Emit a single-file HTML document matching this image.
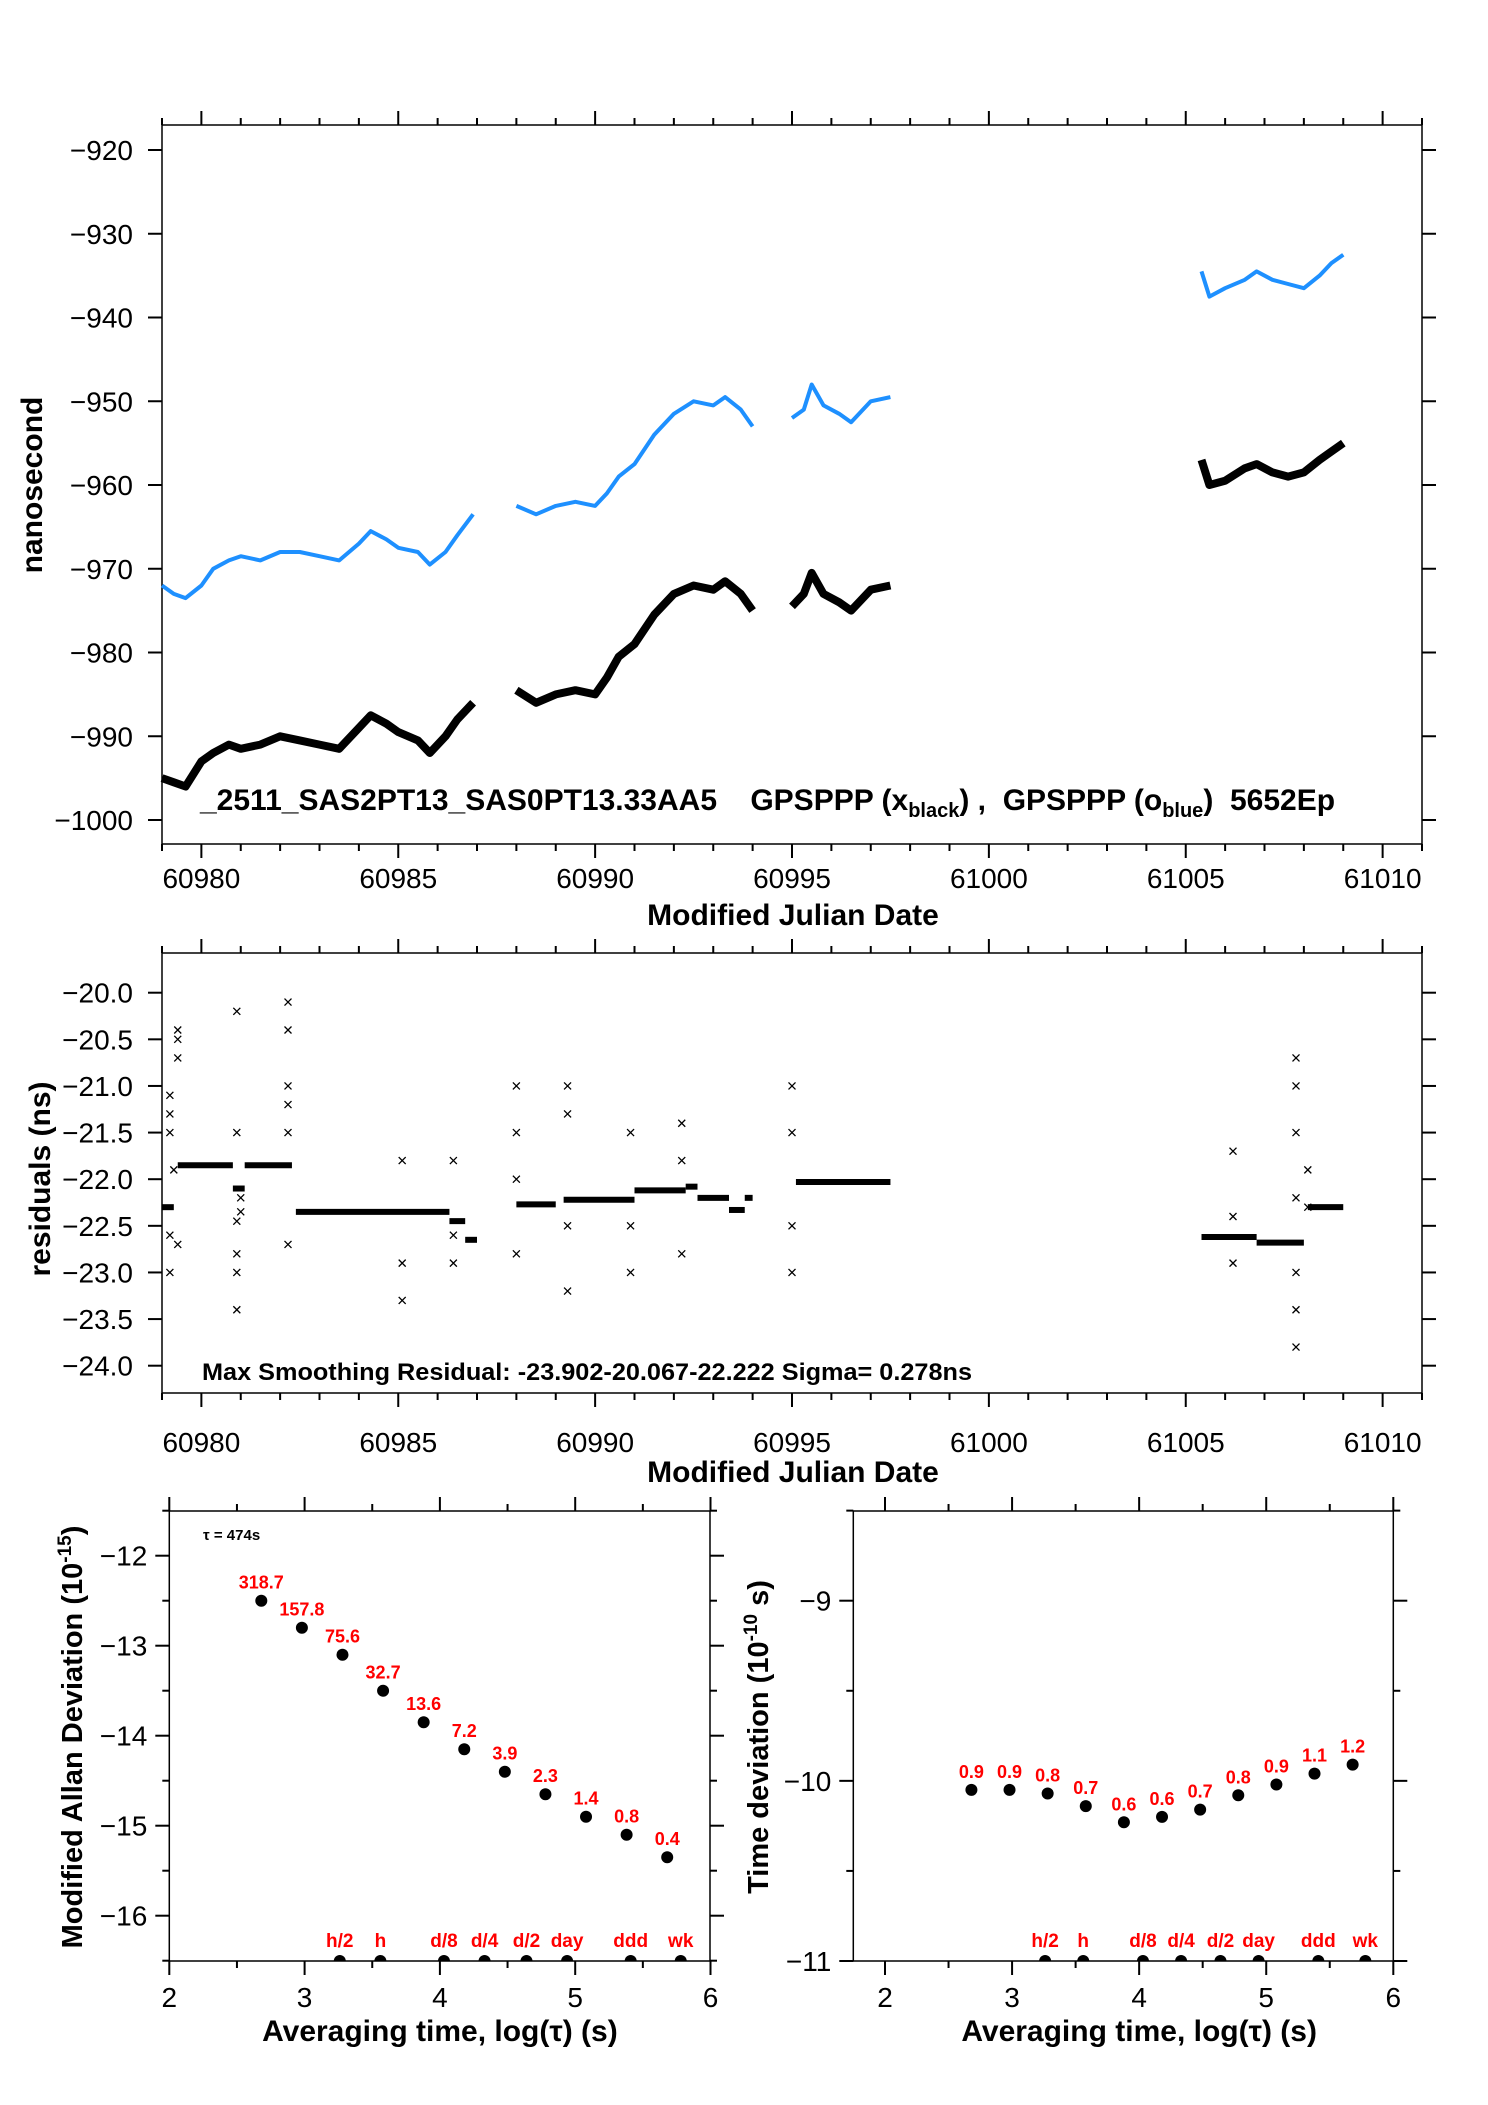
<!DOCTYPE html>
<html><head><meta charset="utf-8"><style>
html,body{margin:0;padding:0;background:#fff}
svg{display:block}
text{font-family:"Liberation Sans",sans-serif}
</style></head><body>
<svg id="s" width="1488" height="2105" viewBox="0 0 1488 2105" xmlns="http://www.w3.org/2000/svg"></svg>
<script>
// ---- Panel 1 data (MJD, ns) ----
const blueSegX=[[60979.0,60979.3,60979.6,60980,60980.3,60980.7,60981,60981.5,60982,60982.5,60983,60983.5,60984,60984.3,60984.7,60985,60985.5,60985.8,60986.2,60986.5,60986.9],[60988,60988.5,60989,60989.5,60990,60990.3,60990.6,60991,60991.5,60992,60992.5,60993,60993.3,60993.7,60994],[60995,60995.3,60995.5,60995.8,60996.2,60996.5,60997,60997.5],[61005.4,61005.6,61006,61006.5,61006.8,61007.2,61007.6,61008,61008.4,61008.7,61009]];
const blueSegY=[[-972,-973,-973.5,-972,-970,-969,-968.5,-969,-968,-968,-968.5,-969,-967,-965.5,-966.5,-967.5,-968,-969.5,-968,-966,-963.5],[-962.5,-963.5,-962.5,-962,-962.5,-961,-959,-957.5,-954,-951.5,-950,-950.5,-949.5,-951,-953],[-952,-951,-948,-950.5,-951.5,-952.5,-950,-949.5],[-934.5,-937.5,-936.5,-935.5,-934.5,-935.5,-936,-936.5,-935,-933.5,-932.5]];
const blackSegY=[[-995,-995.5,-996,-993,-992,-991,-991.5,-991,-990,-990.5,-991,-991.5,-989,-987.5,-988.5,-989.5,-990.5,-992,-990,-988,-986],[-984.5,-986,-985,-984.5,-985,-983,-980.5,-979,-975.5,-973,-972,-972.5,-971.5,-973,-975],[-974.5,-973,-970.5,-973,-974,-975,-972.5,-972],[-957,-960,-959.5,-958,-957.5,-958.5,-959,-958.5,-957,-956,-955]];
const mjdTicks=[60980,60985,60990,60995,61000,61005,61010];
const nsTicks=[-920,-930,-940,-950,-960,-970,-980,-990,-1000];
// ---- Panel 2 data ----
const resStart=[60979,60979.4,60980.8,60981.1,60982.4,60986.3,60986.7,60988,60989.2,60991,60992.3,60992.6,60993.4,60993.8,60995.1,61005.4,61006.8,61008.1];
const resEnd=[60979.3,60980.8,60981.1,60982.3,60986.3,60986.7,60987,60989,60991,60992.3,60992.6,60993.4,60993.8,60994,60997.5,61006.8,61008,61009];
const resVal=[-22.3,-21.85,-22.1,-21.85,-22.35,-22.45,-22.65,-22.27,-22.22,-22.12,-22.08,-22.2,-22.33,-22.2,-22.03,-22.62,-22.68,-22.3];
const outX=[60979.2,60979.2,60979.2,60979.2,60979.2,60979.4,60979.4,60979.4,60979.4,60979.3,60980.9,60980.9,60980.9,60980.9,60980.9,60980.9,60981,60981,60982.2,60982.2,60982.2,60982.2,60982.2,60982.2,60985.1,60985.1,60985.1,60986.4,60986.4,60986.4,60988,60988,60988,60988,60989.3,60989.3,60989.3,60989.3,60990.9,60990.9,60990.9,60992.2,60992.2,60992.2,60995,60995,60995,60995,61006.2,61006.2,61006.2,61007.8,61007.8,61007.8,61007.8,61007.8,61007.8,61007.8,61008.1,61008.1];
const outY=[-21.1,-21.3,-21.5,-22.6,-23.0,-20.4,-20.5,-20.7,-22.7,-21.9,-20.2,-21.5,-22.45,-22.8,-23.0,-23.4,-22.2,-22.35,-20.1,-20.4,-21.0,-21.2,-21.5,-22.7,-21.8,-22.9,-23.3,-21.8,-22.6,-22.9,-21.0,-21.5,-22.0,-22.8,-21.0,-21.3,-22.5,-23.2,-21.5,-22.5,-23.0,-21.4,-21.8,-22.8,-21.0,-21.5,-22.5,-23.0,-21.7,-22.4,-22.9,-20.7,-21.0,-21.5,-22.2,-23.0,-23.4,-23.8,-21.9,-22.3];
const resTicks=[-20.0,-20.5,-21.0,-21.5,-22.0,-22.5,-23.0,-23.5,-24.0];
// ---- Panel 3/4 data ----
const logTau=[2.68,2.98,3.28,3.58,3.88,4.18,4.48,4.78,5.08,5.38,5.68];
const madev=[-12.5,-12.8,-13.1,-13.5,-13.85,-14.15,-14.4,-14.65,-14.9,-15.1,-15.35];
const madevLbl=["318.7","157.8","75.6","32.7","13.6","7.2","3.9","2.3","1.4","0.8","0.4"];
const tdev=[-10.05,-10.05,-10.07,-10.14,-10.23,-10.2,-10.16,-10.08,-10.02,-9.96,-9.91];
const tdevLbl=["0.9","0.9","0.8","0.7","0.6","0.6","0.7","0.8","0.9","1.1","1.2"];
const markX=[3.26,3.56,4.03,4.33,4.64,4.94,5.41,5.78];
const markLbl=["h/2","h","d/8","d/4","d/2","day","ddd","wk"];
const tauTicks=[2,3,4,5,6];
const madevTicks=[-12,-13,-14,-15,-16];
const tdevTicks=[-9,-10,-11];

const S=document.getElementById('s');const NS='http://www.w3.org/2000/svg';
function el(t,a,txt){const e=document.createElementNS(NS,t);for(const k in a)e.setAttribute(k,a[k]);if(txt!==undefined)e.textContent=txt;S.appendChild(e);return e;}
function lin(d0,d1,p0,p1){return v=>p0+(v-d0)*(p1-p0)/(d1-d0);}
function frame(x0,y0,x1,y1,name){const r=el('rect',{x:x0,y:y0,width:x1-x0,height:y1-y0,fill:'none',stroke:'#000','stroke-width':1.5});

}
function tline(x1,y1,x2,y2){const l=el('line',{x1,y1,x2,y2,stroke:'#000','stroke-width':2});

}
function txt(x,y,s,o){return el('text',Object.assign({x,y,'font-size':28,'text-anchor':'middle'},o||{}),s);}

// ===== Panel 1 =====
const L=162,R=1422;
const X1=lin(60979,61011,L,R),Y1=lin(-920,-1000,150,820);
const T1=125,B1=844;
frame(L,T1,R,B1,'top-plot-frame');
for(let d=60979;d<=61011;d++){const x=X1(d);const big=d%5===0;tline(x,T1,x,T1-(big?14:7));tline(x,B1,x,B1+(big?14:7));}
mjdTicks.forEach(v=>{const x=X1(v);const t=txt(x,888,String(v));

});
nsTicks.forEach(v=>{const y=Y1(v);tline(L,y,L-14,y);tline(R,y,R+14,y);const t=txt(L-29,y+10,String(v).replace('-','\u2212'),{'text-anchor':'end'});

});
blueSegX.forEach((xs,i)=>{
 const pb=xs.map((x,j)=>X1(x).toFixed(1)+','+Y1(blueSegY[i][j]).toFixed(1)).join(' ');
 const b=el('polyline',{points:pb,fill:'none',stroke:'#1e90ff','stroke-width':4,'stroke-linejoin':'round'});
 
 
 const pk=xs.map((x,j)=>X1(x).toFixed(1)+','+Y1(blackSegY[i][j]).toFixed(1)).join(' ');
 const k=el('polyline',{points:pk,fill:'none',stroke:'#000','stroke-width':8,'stroke-linejoin':'round'});
 
 
});
let t=txt(793,925,'Modified Julian Date',{'font-weight':'bold','font-size':30});


t=txt(0,0,'nanosecond',{'font-weight':'bold','font-size':30,transform:'translate(42,485) rotate(-90)'});


t=el('text',{x:200,y:810,'font-size':30,'font-weight':'bold'});
t.innerHTML='_2511_SAS2PT13_SAS0PT13.33AA5&#160;&#160;&#160;&#160;GPSPPP (x<tspan font-size="20" dy="7">black</tspan><tspan dy="-7">) ,&#160;&#160;GPSPPP (o</tspan><tspan font-size="20" dy="7">blue</tspan><tspan dy="-7">)&#160;&#160;5652Ep</tspan>';



// ===== Panel 2 =====
const X2=X1,Y2=lin(-20,-24,992.7,1365.7);
const T2=953,B2=1393;
frame(L,T2,R,B2,'residual-plot-frame');
for(let d=60979;d<=61011;d++){const x=X2(d);const big=d%5===0;tline(x,T2,x,T2-(big?14:7));tline(x,B2,x,B2+(big?14:7));}
mjdTicks.forEach(v=>{const x=X2(v);const t=txt(x,1452,String(v));

});
resTicks.forEach(v=>{const y=Y2(v);tline(L,y,L-14,y);tline(R,y,R+14,y);const t=txt(L-29,y+10,v.toFixed(1).replace('-','\u2212'),{'text-anchor':'end'});

});
resStart.forEach((s,i)=>{const y=Y2(resVal[i]);const l=el('line',{x1:X2(s),x2:X2(resEnd[i]),y1:y,y2:y,stroke:'#000','stroke-width':6});

});
outX.forEach((x,i)=>{const cx=X2(x),cy=Y2(outY[i]);const p=el('path',{d:`M${cx-3.5},${cy-3.5}L${cx+3.5},${cy+3.5}M${cx-3.5},${cy+3.5}L${cx+3.5},${cy-3.5}`,stroke:'#000','stroke-width':1.3});

});
t=txt(202,1380,'Max Smoothing Residual: -23.902-20.067-22.222  Sigma= 0.278ns',{'text-anchor':'start','font-size':24,'font-weight':'bold',textLength:770,lengthAdjust:'spacingAndGlyphs'});


t=txt(793,1482,'Modified Julian Date',{'font-weight':'bold','font-size':30});


t=txt(0,0,'residuals (ns)',{'font-weight':'bold','font-size':30,transform:'translate(50,1179) rotate(-90)'});



// ===== Stability panels =====
const T3=1511,B3=1961;
function stab(x0,x1,X,Y,ticksY,minorY,vals,lbls,name,ytitle,ytx,tauNote){
 frame(x0,T3,x1,B3,name+'-frame');
 tauTicks.forEach(v=>{const x=X(v);tline(x,B3,x,B3+14);tline(x,T3,x,T3-14);const t=txt(x,2007,String(v));
 
 });
 for(let v=1.5;v<6;v+=1){const x=X(v);if(x<x0)continue;tline(x,B3,x,B3+7);tline(x,T3,x,T3-7);}
 ticksY.forEach(v=>{const y=Y(v);tline(x0,y,x0-14,y);tline(x1,y,x1+14,y);const t=txt(x0-22,y+10,String(v).replace('-','\u2212'),{'text-anchor':'end'});
 
 });
 minorY.forEach(v=>{const y=Y(v);tline(x0,y,x0-7,y);tline(x1,y,x1+7,y);});
 logTau.forEach((lt,i)=>{const cx=X(lt),cy=Y(vals[i]);const c=el('circle',{cx,cy,r:6,fill:'#000'});
 
 
 const t=txt(cx,cy-12,lbls[i],{fill:'#ff0000','font-size':18,'font-weight':'bold'});
 
 });
 markX.forEach((m,i)=>{const cx=X(m);const c=el('path',{d:`M${cx-6},${B3}A6,6 0 0 1 ${cx+6},${B3}Z`,fill:'#000'});
 
 
 const t=txt(cx,B3-14,markLbl[i],{fill:'#ff0000','font-size':19,'font-weight':'bold'});
 
 });
 const t=txt((X(2)+X(6))/2,2041,'Averaging time, log(\u03c4) (s)',{'font-weight':'bold','font-size':30});
 
 
 const yt=el('text',{'font-size':29,'font-weight':'bold','text-anchor':'middle',transform:`translate(${ytx},1737) rotate(-90)`});
 yt.innerHTML=ytitle;
 
 
 if(tauNote){const n=txt(203,1540,'\u03c4 = 474s',{'text-anchor':'start','font-size':15,'font-weight':'bold'});
 
 }
}
stab(169.3,710,lin(2,6,169.3,710.5),lin(-12,-13,1555.7,1645.7),madevTicks,[-11.5,-12.5,-13.5,-14.5,-15.5,-16.5],madev,madevLbl,'madev-plot','Modified Allan Deviation (10<tspan font-size="19" dy="-11">-15</tspan><tspan dy="11">)</tspan>',82,true);
stab(853.3,1393.3,lin(2,6,885,1393.3),lin(-9,-11,1600.7,1961),tdevTicks,[-8.5,-9.5,-10.5],tdev,tdevLbl,'tdev-plot','Time deviation (10<tspan font-size="19" dy="-11">-10</tspan><tspan dy="11"> s)</tspan>',768,false);
</script>
</body></html>
